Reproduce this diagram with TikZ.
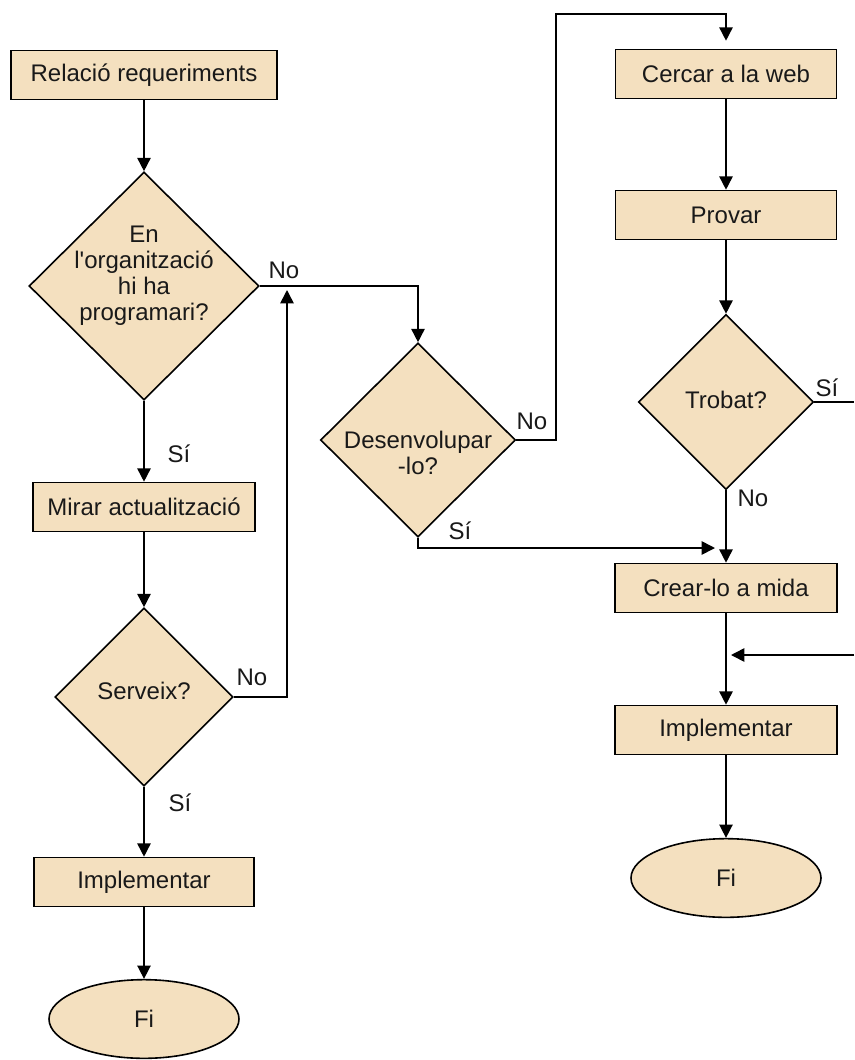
\documentclass[tikz,border=0pt]{standalone}
\usepackage{fontspec}
\setmainfont{Liberation Sans}
\usetikzlibrary{shapes.geometric,arrows.meta}
\definecolor{boxfill}{HTML}{F4E0BF}
\begin{document}
\begin{tikzpicture}[x=0.75pt,y=-0.75pt,
  every node/.style={font=\fontsize{18}{19.5}\selectfont, text=black!90},
  proc/.style={draw, fill=boxfill, line width=1.2pt, minimum height=36.75pt, inner sep=0pt},
  dia/.style={draw, fill=boxfill, diamond, line width=1.2pt, inner sep=0pt},
  term/.style={draw, fill=boxfill, ellipse, line width=1.2pt, minimum width=142.5pt, minimum height=59pt, inner sep=0pt},
  lbl/.style={inner sep=0pt},
  ln/.style={line width=1.2pt},
  arr/.style={line width=1.2pt, -{Triangle[length=10pt,width=10pt]}}]
\fill[white] (0,0) rectangle (854,1060);
\useasboundingbox (0,0) rectangle (854,1060);
% left column
\node[proc, minimum width=199.5pt] (rel) at (144,75) {Relació requeriments};
\node[dia, minimum width=172.5pt, minimum height=171pt] (d1) at (144,286) {};
\node[lbl, align=center] (d1t) at (144,276) {En\\l\textquotesingle organització\\hi ha\\programari?};
\node[proc, minimum width=166.5pt] (mir) at (144,507) {Mirar actualització};
\node[dia, minimum width=133.5pt, minimum height=133.5pt] (d3) at (144,697) {};
\node[lbl] (d3t) at (144,691) {Serveix?};
\node[proc, minimum width=165pt] (impL) at (144,882) {Implementar};
\node[term] (fiL) at (144,1019) {Fi};
% middle
\node[dia, minimum width=146.25pt, minimum height=145.5pt] (d2) at (418,440) {};
\node[lbl, align=center] (d2t) at (418,453) {Desenvolupar\\-lo?};
% right column
\node[proc, minimum width=165.75pt] (cer) at (726,74) {Cercar a la web};
\node[proc, minimum width=165.75pt] (pro) at (726,215) {Provar};
\node[dia, minimum width=131.25pt, minimum height=131.25pt] (tr) at (726,402) {};
\node[lbl] (trt) at (726,400) {Trobat?};
\node[proc, minimum width=166.5pt] (cre) at (726,588) {Crear-lo a mida};
\node[proc, minimum width=166.5pt] (impR) at (726,730) {Implementar};
\node[term] (fiR) at (726,878) {Fi};
% labels
\node[lbl] (l1) at (284,270) {No};
\node[lbl] (l2) at (179,454) {Sí};
\node[lbl] (l3) at (252,677) {No};
\node[lbl] (l4) at (180,803) {Sí};
\node[lbl] (l5) at (532,421) {No};
\node[lbl] (l6) at (460,531) {Sí};
\node[lbl] (l7) at (827,388) {Sí};
\node[lbl] (l8) at (753,498) {No};
% coordinates
\coordinate (up) at (287,290);
\coordinate (c1) at (556,14);
\coordinate (j2) at (715,548);
\coordinate (r1) at (854,402);
\coordinate (r2) at (854,655);
\coordinate (j3) at (731,655);
% connectors
\draw[arr] (rel) -- (d1);
\draw[arr] (d1.east) -| (d2.north);
\draw[arr] (d1) -- (mir);
\draw[arr] (mir) -- (d3);
\draw[arr] (d3.east) -| (up);
\draw[arr] (d3) -- (impL);
\draw[arr] (impL) -- (fiL);
\draw[arr, shorten >=6pt] (d2.east) -| (c1) -| (cer.north);
\draw[arr] (cer) -- (pro);
\draw[arr] (pro) -- (tr);
\draw[ln] (tr.east) -- (r1);
\draw[arr] (tr) -- (cre);
\draw[arr] (d2.south) |- (j2);
\draw[arr] (cre) -- (impR);
\draw[arr] (r2) -- (j3);
\draw[arr] (impR) -- (fiR);
\end{tikzpicture}
\end{document}
